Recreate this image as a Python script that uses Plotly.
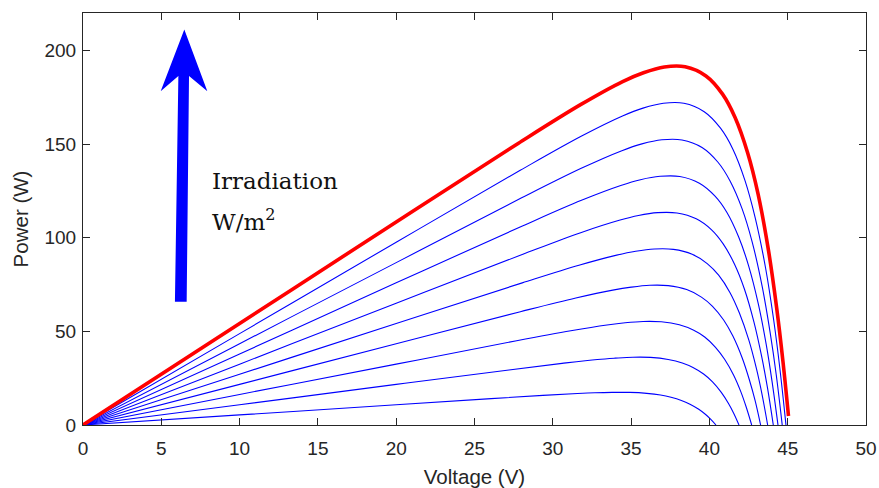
import plotly.graph_objects as go

# Irradiation levels (W/m^2) of the P-V curves
levels = [1000, 900, 800, 700, 600, 500, 400, 300, 200, 100]

v_1000 = [0, 10, 20, 27.81, 31.80, 34.46, 35.79, 37.12, 38.45, 39.78, 40.84, 41.64, 42.44, 43.11, 43.77, 44.30, 44.70, 45.05]
p_1000 = [0, 54.2, 108.4, 150.5, 171.2, 183.4, 188.1, 191.2, 191.3, 186.4, 176.7, 164.2, 145.4, 123.3, 93.4, 62.2, 33.7, 4.8]

v_900 = [0, 10, 20, 27.92, 31.84, 34.45, 35.76, 37.06, 38.37, 39.67, 40.71, 41.50, 42.28, 42.93, 43.59, 44.11, 44.50, 44.89]
p_900 = [0, 48.8, 97.6, 136.0, 154.3, 165.0, 169.2, 171.8, 171.8, 167.3, 158.5, 147.3, 130.4, 110.5, 83.7, 55.8, 30.2, 0]

v_800 = [0, 10, 20, 28.01, 31.85, 34.41, 35.69, 36.97, 38.25, 39.53, 40.55, 41.32, 42.09, 42.73, 43.37, 43.88, 44.27, 44.65]
p_800 = [0, 43.4, 86.7, 121.3, 137.2, 146.5, 150.1, 152.3, 152.2, 148.2, 140.3, 130.3, 115.4, 97.8, 74.0, 49.3, 26.7, 0]

v_700 = [0, 10, 20, 28.06, 31.83, 34.34, 35.60, 36.85, 38.11, 39.36, 40.36, 41.12, 41.87, 42.50, 43.13, 43.63, 44.00, 44.38]
p_700 = [0, 37.9, 75.9, 106.3, 120.0, 127.9, 131.0, 132.8, 132.7, 129.1, 122.2, 113.5, 100.4, 85.1, 64.4, 42.9, 23.3, 0]

v_600 = [0, 10, 20, 28.09, 31.78, 34.24, 35.47, 36.70, 37.93, 39.16, 40.14, 40.88, 41.62, 42.24, 42.85, 43.34, 43.71, 44.08]
p_600 = [0, 32.5, 65.0, 91.2, 102.7, 109.3, 111.9, 113.4, 113.2, 110.1, 104.2, 96.7, 85.6, 72.5, 54.8, 36.5, 19.8, 0]

v_500 = [0, 10, 20, 28.05, 31.67, 34.08, 35.29, 36.49, 37.70, 38.90, 39.86, 40.59, 41.31, 41.91, 42.52, 43.00, 43.36, 43.72]
p_500 = [0, 27.1, 54.2, 75.9, 85.3, 90.7, 92.8, 94.0, 93.8, 91.2, 86.2, 80.0, 70.8, 59.9, 45.3, 30.2, 16.4, 0]

v_400 = [0, 10, 20, 27.93, 31.47, 33.83, 35.01, 36.19, 37.37, 38.55, 39.49, 40.20, 40.91, 41.50, 42.09, 42.56, 42.92, 43.27]
p_400 = [0, 21.7, 43.4, 60.5, 67.8, 72.0, 73.6, 74.6, 74.4, 72.3, 68.3, 63.4, 56.1, 47.5, 35.9, 23.9, 13.0, 0]

v_300 = [0, 10, 20, 27.69, 31.15, 33.46, 34.62, 35.77, 36.93, 38.08, 39.00, 39.70, 40.39, 40.97, 41.55, 42.01, 42.35, 42.70]
p_300 = [0, 16.3, 32.5, 45.0, 50.3, 53.4, 54.6, 55.3, 55.1, 53.5, 50.6, 47.0, 41.5, 35.1, 26.6, 17.7, 9.6, 0]

v_200 = [0, 10, 20, 27.20, 30.59, 32.85, 33.98, 35.11, 36.24, 37.37, 38.27, 38.95, 39.63, 40.20, 40.76, 41.21, 41.55, 41.89]
p_200 = [0, 10.8, 21.7, 29.4, 32.9, 35.0, 35.7, 36.2, 36.1, 35.0, 33.1, 30.7, 27.2, 23.0, 17.4, 11.6, 6.3, 0]

v_100 = [0, 10, 20, 26.06, 29.37, 31.58, 32.69, 33.79, 34.90, 36.00, 36.88, 37.55, 38.21, 38.76, 39.32, 39.76, 40.09, 40.42]
p_100 = [0, 5.4, 10.8, 14.1, 15.8, 16.8, 17.2, 17.4, 17.4, 16.9, 16.0, 14.8, 13.1, 11.1, 8.4, 5.6, 3.0, 0]

curves_v = [v_1000, v_900, v_800, v_700, v_600, v_500, v_400, v_300, v_200, v_100]
curves_p = [p_1000, p_900, p_800, p_700, p_600, p_500, p_400, p_300, p_200, p_100]

x_ticks = [0, 5, 10, 15, 20, 25, 30, 35, 40, 45, 50]
y_ticks = [0, 50, 100, 150, 200]

fig = go.Figure()

# blue curves first, red (top) last
for lvl, v, p in list(zip(levels, curves_v, curves_p))[1:]:
    fig.add_trace(go.Scatter(x=v, y=p, mode="lines", name=f"{lvl} W/m²",
                             line=dict(color="#0000FF", width=1.1, shape="spline", smoothing=1.0)))
fig.add_trace(go.Scatter(x=curves_v[0], y=curves_p[0], mode="lines", name=f"{levels[0]} W/m²",
                         line=dict(color="#FF0000", width=3.6, shape="spline", smoothing=1.0)))

# big blue arrow (decoration)
fig.add_shape(type="path",
              path="M 6.47,211.2 L 7.94,178.2 L 6.77,186.3 L 6.62,65.8 L 5.87,65.8 L 6.09,186.3 L 4.96,178.2 Z",
              xref="x", yref="y", fillcolor="#0000FF", line=dict(width=0), layer="above")

serif = "DejaVu Serif, Liberation Serif, serif"
fig.add_annotation(x=8.1, y=130.5, xref="x", yref="y", text="Irradiation", showarrow=False,
                   xanchor="left", yanchor="middle", font=dict(family=serif, size=23, color="#111111"))
fig.add_annotation(x=8.1, y=109.5, xref="x", yref="y", text="W/m<sup>2</sup>", showarrow=False,
                   xanchor="left", yanchor="middle", font=dict(family=serif, size=23, color="#111111"))

sans = "Liberation Sans, Arial, sans-serif"
axis_font = dict(family=sans, size=19, color="#262626")
common = dict(showline=True, linecolor="#262626", linewidth=1, mirror="ticks", ticks="inside",
              ticklen=7, tickwidth=1.3, tickcolor="#262626", showgrid=False, zeroline=False,
              tickfont=axis_font, automargin=False)

fig.update_xaxes(range=[0, 50], tickvals=x_ticks, ticktext=[str(t) for t in x_ticks],
                 ticklabelstandoff=6,
                 title=dict(text="Voltage (V)", font=dict(family=sans, size=20.5, color="#262626"), standoff=11),
                 **common)
fig.update_yaxes(range=[0, 220], tickvals=y_ticks, ticktext=[str(t) for t in y_ticks],
                 ticklabelstandoff=2,
                 title=dict(text="Power (W)", font=dict(family=sans, size=20.5, color="#262626"), standoff=10),
                 **common)

fig.update_layout(width=879, height=488, margin=dict(l=83, r=13, t=13, b=63, autoexpand=False),
                  plot_bgcolor="white", paper_bgcolor="white", showlegend=False)

fig.write_html("out.html")
